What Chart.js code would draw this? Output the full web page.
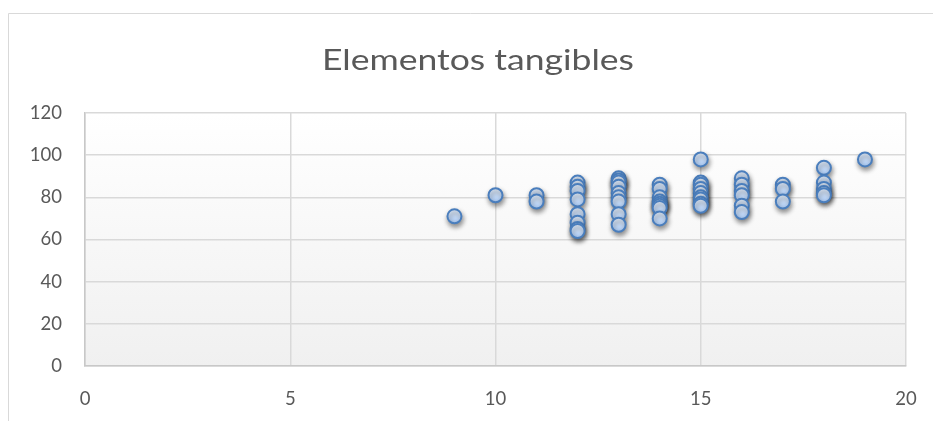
<!DOCTYPE html>
<html lang="es">
<head>
<meta charset="utf-8">
<title>Elementos tangibles</title>
<script src="https://cdn.jsdelivr.net/npm/chart.js@4/dist/chart.umd.min.js"></script>
<style>
  html, body { margin: 0; padding: 0; background: #ffffff; overflow: hidden; }
  #wrap { position: relative; width: 933px; height: 421px; }
</style>
</head>
<body>
<div id="wrap"><canvas id="chart"></canvas></div>
<script>
// Puntuación de elementos tangibles (eje X) y valoración obtenida (eje Y)
const chartTitle = 'Elementos tangibles';
const xTicks = [0, 5, 10, 15, 20];
const yTicks = [0, 20, 40, 60, 80, 100, 120];

const tangibleScores = [
  9,
  10,
  11, 11,
  12, 12, 12, 12, 12, 12, 12, 12,
  13, 13, 13, 13, 13, 13, 13, 13, 13,
  14, 14, 14, 14, 14, 14, 14, 14,
  15, 15, 15, 15, 15, 15, 15, 15, 15,
  16, 16, 16, 16, 16, 16,
  17, 17, 17,
  18, 18, 18, 18, 18,
  19
];
const ratings = [
  71,
  81,
  81, 78,
  87, 85, 83, 79, 72, 68, 65, 64,
  89, 88, 87, 85, 82, 80, 78, 72, 67,
  86, 84, 80, 78, 77, 76, 75, 70,
  98, 87, 86, 84, 82, 80, 79, 77, 76,
  89, 86, 83, 81, 76, 73,
  86, 84, 78,
  94, 87, 84, 82, 81,
  98
];

const points = tangibleScores.map((x, i) => ({ x: x, y: ratings[i] }));

const TEXT_COLOR = '#595959';
const FONT = 'Lato, "Open Sans", sans-serif';
const POINT_R = 7;
const TITLE_WIDTH = 312;

// Marco del gráfico, fondo degradado del área de trazado y título
const decorations = {
  id: 'decorations',
  beforeDraw(chart) {
    const { ctx, chartArea: a, width, height } = chart;
    ctx.save();
    ctx.fillStyle = '#ffffff';
    ctx.fillRect(0, 0, width, height);
    ctx.strokeStyle = '#d9d9d9';
    ctx.lineWidth = 1;
    ctx.beginPath();
    ctx.moveTo(8.5, height);
    ctx.lineTo(8.5, 13.5);
    ctx.lineTo(width, 13.5);
    ctx.stroke();
    if (a && isFinite(a.top) && isFinite(a.bottom)) {
      const g = ctx.createLinearGradient(0, a.top, 0, a.bottom);
      g.addColorStop(0, '#ffffff');
      g.addColorStop(1, '#f0f0f0');
      ctx.fillStyle = g;
      ctx.fillRect(a.left, a.top, a.right - a.left, a.bottom - a.top);
    }
    ctx.restore();
  },
  afterDraw(chart) {
    const { ctx } = chart;
    ctx.save();
    ctx.fillStyle = TEXT_COLOR;
    ctx.font = '29px ' + FONT;
    ctx.textAlign = 'center';
    ctx.textBaseline = 'alphabetic';
    const w = ctx.measureText(chartTitle).width || TITLE_WIDTH;
    ctx.translate(478, 70);
    ctx.scale(TITLE_WIDTH / w, 1);
    ctx.fillText(chartTitle, 0, 0);
    ctx.restore();
  }
};

// Sombra bajo los marcadores
const markerShadow = {
  id: 'markerShadow',
  beforeDatasetsDraw(chart) {
    const ctx = chart.ctx;
    ctx.save();
    ctx.shadowColor = 'rgba(0, 0, 0, 0.42)';
    ctx.shadowBlur = 5;
    ctx.shadowOffsetX = 1;
    ctx.shadowOffsetY = 3;
  },
  afterDatasetsDraw(chart) {
    chart.ctx.restore();
  }
};

function markerFill(c) {
  const flat = '#c2d8f7';
  if (c.type !== 'data' || !c.parsed) return flat;
  const yScale = c.chart.scales.y;
  if (!yScale) return flat;
  const py = yScale.getPixelForValue(c.parsed.y);
  if (!isFinite(py)) return flat;
  const g = c.chart.ctx.createLinearGradient(0, py - POINT_R, 0, py + POINT_R);
  g.addColorStop(0, '#e6f0fd');
  g.addColorStop(1, '#abcaf4');
  return g;
}

new Chart(document.getElementById('chart'), {
  type: 'scatter',
  data: {
    datasets: [{
      label: chartTitle,
      data: points,
      pointRadius: POINT_R,
      pointHoverRadius: POINT_R,
      pointBorderWidth: 2,
      pointBorderColor: '#4a7ebd',
      pointBackgroundColor: markerFill
    }]
  },
  options: {
    responsive: true,
    maintainAspectRatio: false,
    animation: false,
    events: [],
    layout: { padding: { top: 113, right: 27, left: 0, bottom: 0 } },
    plugins: {
      legend: { display: false },
      title: { display: false },
      tooltip: { enabled: false }
    },
    scales: {
      x: {
        type: 'linear',
        min: xTicks[0],
        max: xTicks[xTicks.length - 1],
        afterBuildTicks: s => { s.ticks = xTicks.map(v => ({ value: v })); },
        afterFit: s => { s.height = 55; s.paddingLeft = 0; s.paddingRight = 0; },
        ticks: { color: TEXT_COLOR, font: { family: FONT, size: 18.5 }, padding: 22, maxRotation: 0 },
        grid: { color: '#d9d9d9', lineWidth: 1.5, drawTicks: false },
        border: { color: '#c8c8c8', width: 1.5 }
      },
      y: {
        type: 'linear',
        min: yTicks[0],
        max: yTicks[yTicks.length - 1],
        afterBuildTicks: s => { s.ticks = yTicks.map(v => ({ value: v })); },
        afterFit: s => { s.width = 85; s.paddingTop = 0; s.paddingBottom = 0; },
        ticks: { color: TEXT_COLOR, font: { family: FONT, size: 18.5 }, padding: 23 },
        grid: { color: '#d9d9d9', lineWidth: 1.5, drawTicks: false },
        border: { color: '#c8c8c8', width: 1.5 }
      }
    }
  },
  plugins: [decorations, markerShadow]
});
</script>
</body>
</html>
